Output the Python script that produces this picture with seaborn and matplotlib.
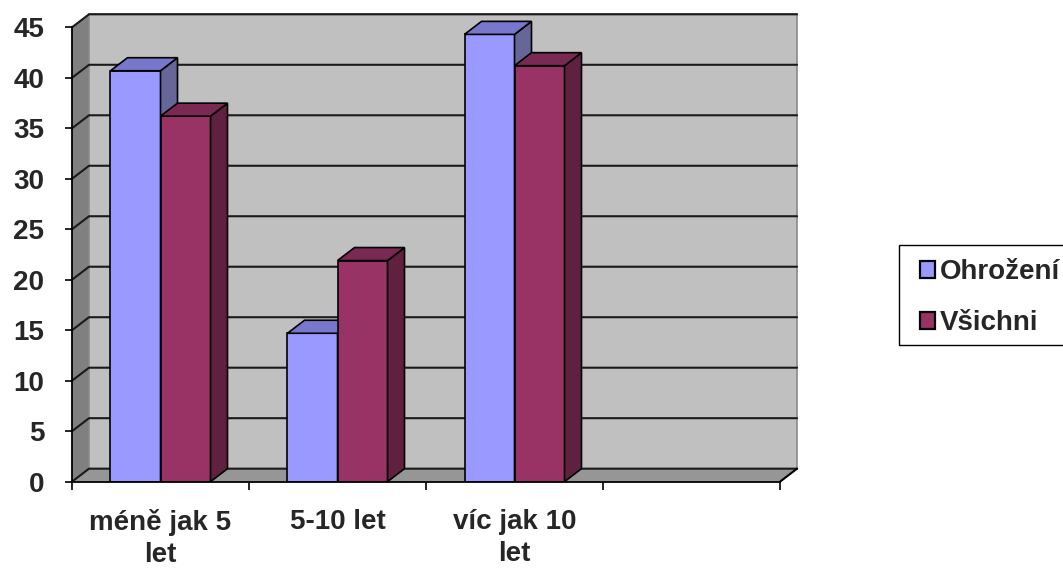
import matplotlib
matplotlib.use("Agg")
import matplotlib.pyplot as plt
from matplotlib.patches import Polygon, Patch, Rectangle
from matplotlib.lines import Line2D
import seaborn as sns
import pandas as pd

# Data
categories = ["méně jak 5\nlet", "5-10 let", "víc jak 10\nlet"]
series = ["Ohrožení", "Všichni"]
ohrozeni = [40.7, 14.7, 44.3]
vsichni = [36.2, 21.9, 41.2]
yticks = [0, 5, 10, 15, 20, 25, 30, 35, 40, 45]

front_colors = ["#9999FF", "#993366"]
top_colors = ["#7777CC", "#7A2952"]
side_colors = ["#666699", "#602040"]

df = pd.DataFrame({
    "kategorie": categories * 2,
    "hodnota": ohrozeni + vsichni,
    "skupina": [series[0]] * 3 + [series[1]] * 3,
})

sns.set_style("white")
plt.rcParams["font.family"] = ["Liberation Sans", "DejaVu Sans"]
plt.rcParams["font.weight"] = "bold"

FS = 20

W, H = 1063, 571
fig = plt.figure(figsize=(W / 100, H / 100), dpi=100)

# 3D depth offset in data units
dx = 0.096
dy = 1.29
x0, x1 = -0.5, 3.5
ymax = 45

left_px, right_px = 72, 797
bot_px, top_px = 481.7, 14.3
ax = fig.add_axes([left_px / W, (H - bot_px) / H,
                   (right_px - left_px) / W, (bot_px - top_px) / H])

sns.barplot(data=df, x="kategorie", y="hodnota", hue="skupina",
            order=categories, hue_order=series, palette=front_colors,
            width=0.565, saturation=1, edgecolor="black", linewidth=1.2,
            legend=False, ax=ax)

ax.set_xlim(x0, x1 + dx)
ax.set_ylim(0, ymax + dy)
ax.set_facecolor("none")
ax.set_xlabel("")
ax.set_ylabel("")

# Walls and floor
left_wall = Polygon([(x0, 0), (x0, ymax), (x0 + dx, ymax + dy), (x0 + dx, dy)],
                    closed=True, facecolor="#808080", edgecolor="none", zorder=0.1)
back_wall = Polygon([(x0 + dx, dy), (x0 + dx, ymax + dy), (x1 + dx, ymax + dy), (x1 + dx, dy)],
                    closed=True, facecolor="#C0C0C0", edgecolor="#8A8A8A", lw=1.2, zorder=0.1)
floor = Polygon([(x0, 0), (x1, 0), (x1 + dx, dy), (x0 + dx, dy)],
                closed=True, facecolor="#969696", edgecolor="none", zorder=0.1)
for p in (left_wall, back_wall, floor):
    p.set_clip_on(False)
    ax.add_patch(p)

# Gridlines across the left wall and back wall
for v in yticks:
    ax.add_line(Line2D([x0, x0 + dx, x1 + dx], [v, v + dy, v + dy],
                       color="#1a1a1a", lw=1.5, zorder=0.2, clip_on=False))
ax.add_line(Line2D([x1, x1 + dx], [0, dy], color="black", lw=1.5,
                   zorder=0.3, clip_on=False))

# Top and side faces of each column
for i, cont in enumerate(ax.containers):
    z = 3 + i
    for bar in cont.patches:
        bar.set_zorder(z)
        bx, bw, bh = bar.get_x(), bar.get_width(), bar.get_height()
        top = Polygon([(bx, bh), (bx + bw, bh), (bx + bw + dx, bh + dy), (bx + dx, bh + dy)],
                      closed=True, facecolor=top_colors[i], edgecolor="black",
                      lw=1.2, zorder=z, clip_on=False)
        side = Polygon([(bx + bw, 0), (bx + bw, bh), (bx + bw + dx, bh + dy), (bx + bw + dx, dy)],
                       closed=True, facecolor=side_colors[i], edgecolor="black",
                       lw=1.2, zorder=z, clip_on=False)
        ax.add_patch(side)
        ax.add_patch(top)

# Axes lines and ticks on the front plane
for s in ("top", "right"):
    ax.spines[s].set_visible(False)
ax.spines["left"].set_bounds(0, ymax)
ax.spines["bottom"].set_bounds(x0, x1)
for s in ("left", "bottom"):
    ax.spines[s].set_color("black")
    ax.spines[s].set_linewidth(1.3)
    ax.spines[s].set_zorder(5)

ax.set_yticks(yticks)
ax.set_yticklabels([str(t) for t in yticks])
ax.tick_params(axis="y", direction="out", length=5, width=1.2, color="black",
               pad=15, labelsize=FS, left=True)
ax.set_xticks(range(len(categories)))
ax.set_xticklabels(categories, linespacing=1.3)
ax.set_xticks([x0 + k for k in range(5)], minor=True)
ax.tick_params(axis="x", which="major", length=0, pad=20, labelsize=FS)
ax.tick_params(axis="x", which="minor", direction="out", length=6, width=1.2,
               color="black", bottom=True)
for lbl in ax.get_xticklabels() + ax.get_yticklabels():
    lbl.set_fontweight("bold")

# Legend: entries without their own frame, boxed by a plain rectangle
handles = [Patch(facecolor=c, edgecolor="black", lw=1.6) for c in front_colors]
leg = fig.legend(handles, series, loc="upper left",
                 bbox_to_anchor=(920 / W, 1 - 259 / H),
                 prop={"size": FS, "weight": "bold"},
                 frameon=False, handlelength=0.55, handleheight=0.55,
                 handletextpad=0.18, labelspacing=0.9,
                 borderpad=0, borderaxespad=0)
fig.patches.append(Rectangle((899 / W, 1 - 345 / H), (1075 - 899) / W, 100 / H,
                             transform=fig.transFigure, fill=False,
                             edgecolor="black", lw=1.0))

fig.savefig("out.png", dpi=100)
